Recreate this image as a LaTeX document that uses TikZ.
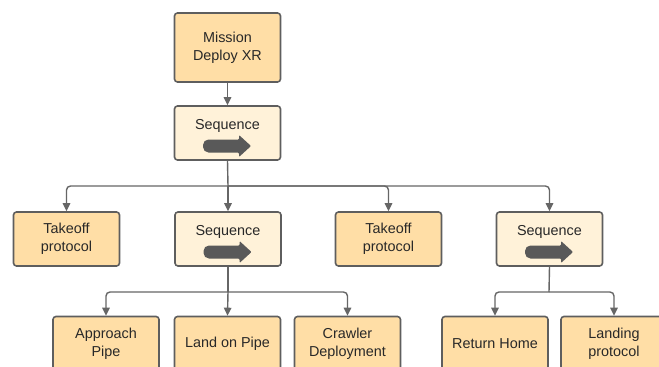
\documentclass[tikz,border=0pt]{standalone}
\usepackage{fontspec}
\setmainfont{Liberation Sans}
\usetikzlibrary{arrows.meta}
\definecolor{taskfill}{RGB}{255,222,166}
\definecolor{seqfill}{RGB}{255,242,217}
\definecolor{edgegray}{RGB}{94,94,94}
\definecolor{linkgray}{RGB}{102,102,102}
\definecolor{inkgray}{RGB}{40,40,40}
\definecolor{arrowgray}{RGB}{89,89,89}
\tikzset{
  box/.style={rectangle, rounded corners=3pt, draw=edgegray, line width=1.6pt,
    minimum width=106pt, minimum height=54pt, inner sep=2pt,
    align=center, text=inkgray, font=\fontsize{14.4}{18}\selectfont},
  taskbox/.style={box, fill=taskfill},
  seqbox/.style={box, fill=seqfill},
  seqlabel/.style={text=inkgray, font=\fontsize{14.4}{18}\selectfont, inner sep=0pt},
  link/.style={draw=linkgray, line width=1.4pt, rounded corners=4pt},
  tip/.style={-{Triangle[length=8pt,width=7.5pt]}},
  seqarrow/.pic={
    \fill[arrowgray, rounded corners=5.5pt] (0,-6.5) -- (-24,-6.5) -- (-24,6.5) -- (0,6.5)
      [rounded corners=1pt] -- (12,6.5) -- (12,11) -- (24,0) -- (12,-11) -- (12,-6.5) -- cycle;
  }
}
\begin{document}
\begin{tikzpicture}[x=1pt, y=-1pt]
\useasboundingbox (0,0) rectangle (659,367);
\clip (0,0) rectangle (659,367);
\fill[white] (0,0) rectangle (659,367);

% root and first sequence
\node[taskbox, minimum height=69pt] (mission) at (227.5,47.5) {Mission\\Deploy XR};
\node[seqbox] (seq1) at (227.5,133) {};
\node[seqlabel] (seq1t) at (227.5,125.5) {Sequence};
\pic at (227,146) {seqarrow};

% second row
\node[taskbox] (take1) at (66.5,239) {Takeoff\\protocol};
\node[seqbox] (seq2) at (228,239) {};
\node[seqlabel] (seq2t) at (228,231.5) {Sequence};
\pic at (227.5,252) {seqarrow};
\node[taskbox] (take2) at (388.5,239) {Takeoff\\protocol};
\node[seqbox] (seq3) at (549.5,239) {};
\node[seqlabel] (seq3t) at (549.5,231.5) {Sequence};
\pic at (549,252) {seqarrow};

% third row
\node[taskbox] (approach) at (106,343.5) {Approach\\Pipe};
\node[taskbox] (land) at (227.5,343.5) {Land on Pipe};
\node[taskbox] (crawler) at (347.5,343.5) {Crawler\\Deployment};
\node[taskbox] (home) at (495,343.5) {Return Home};
\node[taskbox] (landing) at (614,343.5) {Landing\\protocol};

% connectors
\coordinate (bus1) at (228,186);
\coordinate (bus2) at (228,292);
\coordinate (bus3) at (549,292);
\draw[link, tip] (mission.south) -- (seq1.north);
\draw[link] (seq1.south) -- (bus1);
\draw[link, tip] (bus1) -| (take1.north);
\draw[link, tip] (bus1) -- (seq2.north);
\draw[link, tip] (bus1) -| (take2.north);
\draw[link, tip] (bus1) -| (seq3.north);

\draw[link] (seq2.south) -- (bus2);
\draw[link, tip] (bus2) -| (approach.north);
\draw[link, tip] (bus2) -- (land.north);
\draw[link, tip] (bus2) -| (crawler.north);

\draw[link] (seq3.south) -- (bus3);
\draw[link, tip] (bus3) -| (home.north);
\draw[link, tip] (bus3) -| (landing.north);
\end{tikzpicture}
\end{document}
